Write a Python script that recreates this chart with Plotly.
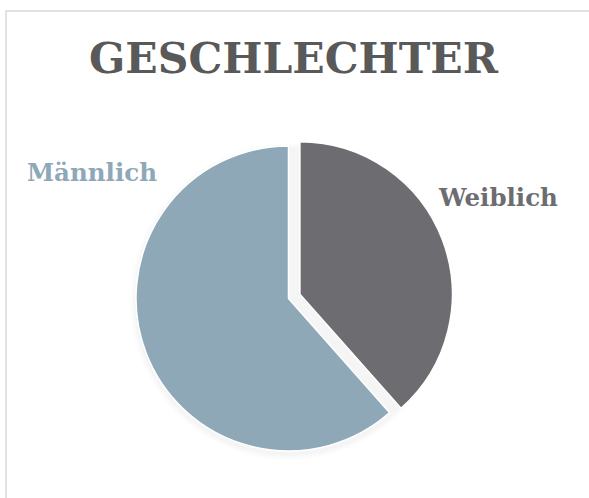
import plotly.graph_objects as go

categories = ["Weiblich", "Männlich"]
values = [5, 8]
colors = ["#6d6c70", "#8fa8b8"]
title_text = "GESCHLECHTER"

W, H = 589, 498
cx, cy, r, pull = 288.5, 298.5, 152.5, 0.08
half = r * (1 + pull)

fig = go.Figure()

# soft shadow rings
for i, a in enumerate([0.012, 0.012, 0.014]):
    rr = r + 6 - i * 2
    fig.add_shape(type="circle", xref="paper", yref="paper",
                  x0=(cx - rr) / W, x1=(cx + rr) / W,
                  y0=1 - (cy + 3 + rr) / H, y1=1 - (cy + 3 - rr) / H,
                  fillcolor=f"rgba(0,0,0,{a})", line_width=0, layer="below")

fig.add_trace(go.Pie(
    labels=categories, values=values, sort=False, direction="clockwise",
    rotation=0, pull=[pull, 0], textinfo="none", hoverinfo="label+value",
    marker=dict(colors=colors, line=dict(color="white", width=1.5)),
    domain=dict(x=[(cx - half) / W, (cx + half) / W],
                y=[1 - (cy + half) / H, 1 - (cy - half) / H]),
    showlegend=False,
))

font_family = "'DejaVu Serif', 'Liberation Serif', serif"

fig.add_annotation(text=f"<b>{categories[0]}</b>", x=497.5 / W, y=1 - 197 / H,
                   xref="paper", yref="paper", showarrow=False,
                   xanchor="center", yanchor="middle",
                   font=dict(family=font_family, size=24.5, color=colors[0]))
fig.add_annotation(text=f"<b>{categories[1]}</b>", x=91.5 / W, y=1 - 172 / H,
                   xref="paper", yref="paper", showarrow=False,
                   xanchor="center", yanchor="middle",
                   font=dict(family=font_family, size=24.5, color=colors[1]))

fig.add_shape(type="rect", xref="paper", yref="paper",
              x0=6 / W, x1=1.2, y0=-0.2, y1=1 - 11 / H,
              line=dict(color="#d9d9d9", width=1.5), fillcolor="rgba(0,0,0,0)")

fig.update_layout(
    width=W, height=H,
    margin=dict(l=0, r=0, t=0, b=0),
    paper_bgcolor="white", plot_bgcolor="white",
    title=dict(text=f"<b>{title_text}</b>", x=293.5 / W, xanchor="center",
               y=1 - 58.5 / H, yanchor="middle", yref="container",
               font=dict(family=font_family, size=42.5, color="#595959")),
)

fig.write_html("out.html", config={"displayModeBar": False},
               post_script="document.body.style.margin='0';")
